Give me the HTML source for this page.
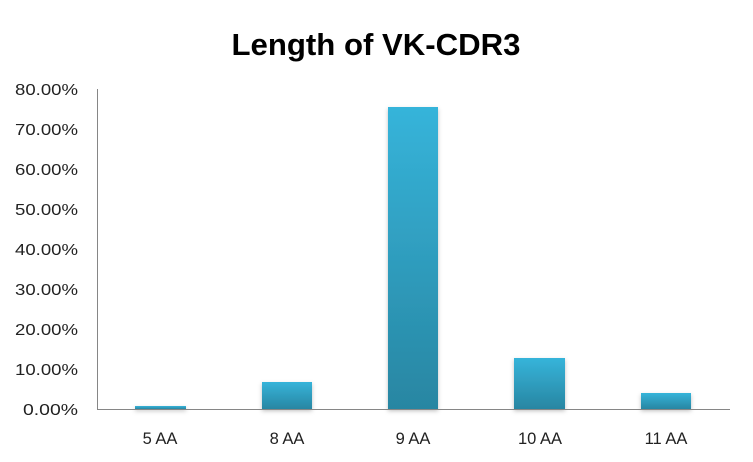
<!DOCTYPE html>
<html><head><meta charset="utf-8"><style>
html,body{margin:0;padding:0;background:#fff;}
svg{display:block;font-family:"Liberation Sans",sans-serif;}
</style></head><body>
<svg width="753" height="462" viewBox="0 0 753 462">
<defs>
<linearGradient id="g" x1="0" y1="0" x2="0" y2="1">
<stop offset="0" stop-color="#36b4da"/>
<stop offset="1" stop-color="#2886a2"/>
</linearGradient>
<filter id="s" x="-20%" y="-5%" width="140%" height="115%">
<feDropShadow dx="0" dy="2" stdDeviation="2" flood-color="#000" flood-opacity="0.25"/>
</filter>
</defs>
<text x="376" y="55" text-anchor="middle" font-size="31" font-weight="bold" textLength="289" lengthAdjust="spacingAndGlyphs">Length of VK-CDR3</text>
<g font-size="16" fill="#222" text-anchor="end">
<text x="78" y="415" textLength="55" lengthAdjust="spacingAndGlyphs">0.00%</text>
<text x="78" y="375" textLength="63" lengthAdjust="spacingAndGlyphs">10.00%</text>
<text x="78" y="335" textLength="63" lengthAdjust="spacingAndGlyphs">20.00%</text>
<text x="78" y="295" textLength="63" lengthAdjust="spacingAndGlyphs">30.00%</text>
<text x="78" y="255" textLength="63" lengthAdjust="spacingAndGlyphs">40.00%</text>
<text x="78" y="215" textLength="63" lengthAdjust="spacingAndGlyphs">50.00%</text>
<text x="78" y="175" textLength="63" lengthAdjust="spacingAndGlyphs">60.00%</text>
<text x="78" y="135" textLength="63" lengthAdjust="spacingAndGlyphs">70.00%</text>
<text x="78" y="95" textLength="63" lengthAdjust="spacingAndGlyphs">80.00%</text>
</g>
<g fill="url(#g)" filter="url(#s)">
<rect x="135" y="406" width="51" height="3"/>
<rect x="262" y="382" width="50" height="27"/>
<rect x="388" y="107" width="50" height="302"/>
<rect x="514" y="358" width="51" height="51"/>
<rect x="641" y="393" width="50" height="16"/>
</g>
<line x1="97.5" y1="89" x2="97.5" y2="409.5" stroke="#868686" stroke-width="1"/>
<line x1="97" y1="409.5" x2="730" y2="409.5" stroke="#868686" stroke-width="1"/>
<g font-size="16.5" fill="#222" text-anchor="middle">
<text x="160" y="444">5 AA</text>
<text x="287" y="444">8 AA</text>
<text x="413" y="444">9 AA</text>
<text x="540" y="444">10 AA</text>
<text x="666" y="444">11 AA</text>
</g>
</svg>
</body></html>
